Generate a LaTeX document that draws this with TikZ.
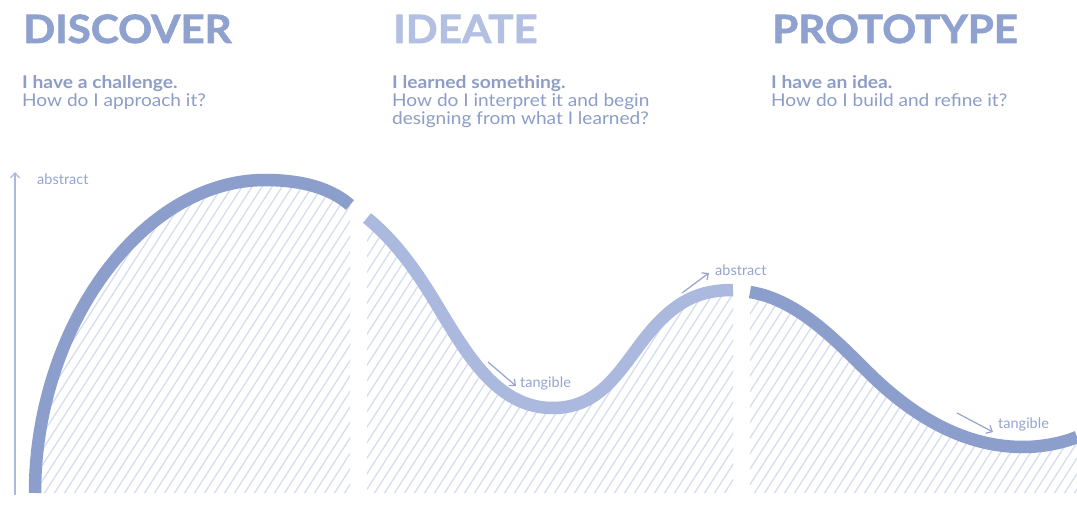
\documentclass[tikz,border=0pt]{standalone}
\usepackage{fontspec}
\setmainfont{Lato}
\newfontfamily\titlefont{Lato}[FakeStretch=1.08, BoldFeatures={FakeBold=1.6}]
\newfontfamily\subboldfont{Lato}[FakeStretch=1.1]
\newfontfamily\subregfont{Lato}[FakeStretch=1.09]
\usetikzlibrary{arrows.meta}
\definecolor{curvedark}{HTML}{8C9ECB}
\definecolor{curvelight}{HTML}{AAB9DD}
\definecolor{titledark}{HTML}{8FA1CE}
\definecolor{titlelight}{HTML}{B3C0E2}
\definecolor{subtxt}{HTML}{8D9DC8}
\definecolor{hatchc}{HTML}{D6DDEF}
\definecolor{labelc}{HTML}{95A5CE}
\tikzset{
  title/.style={anchor=base west, inner sep=0pt, font=\titlefont\fontsize{39}{39}\selectfont\bfseries},
  subhead/.style={anchor=base west, inner sep=0pt, text=subtxt, font=\subboldfont\fontsize{17.5}{18}\selectfont\bfseries},
  subline/.style={anchor=base west, inner sep=0pt, text=subtxt, font=\subregfont\fontsize{17.5}{18}\selectfont},
  lbl/.style={anchor=base west, inner sep=0pt, text=labelc, font=\fontsize{14.5}{15}\selectfont},
  hatch/.style={draw=hatchc, line width=1.3pt},
  curve/.style={line width=12.5pt, line cap=butt},
  pointer/.style={draw=labelc, line width=1.2pt, -{Straight Barb[length=5pt,width=9pt]}},
}
\begin{document}
\begin{tikzpicture}[x=1pt,y=-1pt]
\useasboundingbox[fill=white] (0,0) rectangle (1077,508);

% titles
\node[title, text=titledark] (t1) at (23,43) {DISCOVER};
\node[title, text=titlelight] (t2) at (393,43) {IDEATE};
\node[title, text=titledark] (t3) at (772,43) {PROTOTYPE};

\node[subhead] (s1a) at (22,89) {I have a challenge.};
\node[subline] (s1b) at (22,107) {How do I approach it?};
\node[subhead] (s2a) at (392,89) {I learned something.};
\node[subline] (s2b) at (392,107) {How do I interpret it and begin};
\node[subline] (s2c) at (392,125) {designing from what I learned?};
\node[subhead] (s3a) at (771,89) {I have an idea.};
\node[subline] (s3b) at (771,107) {How do I build and refine it?};

% hatched areas
\begin{scope}
  \clip (35,493) .. controls (35,330) and (140,180) .. (265,180) .. controls (310,180) and (335,192) .. (350,205) -- (350,493) -- cycle;
  \foreach \x in {0,10,...,700} \draw[hatch] (\x-300,500) -- ++(340,-527);
\end{scope}
\begin{scope}
  \clip (367,218) .. controls (400,245) and (422,280) .. (440,310) .. controls (470,360) and (500,408) .. (553,408) .. controls (600,408) and (620,370) .. (645,338) .. controls (675,300) and (700,290) .. (733,290) -- (733,493) -- (367,493) -- cycle;
  \foreach \x in {0,10,...,700} \draw[hatch] (\x+70,500) -- ++(340,-527);
\end{scope}
\begin{scope}
  \clip (750,292) .. controls (800,300) and (840,345) .. (873,377) .. controls (920,422) and (970,447) .. (1023,447) .. controls (1045,447) and (1065,442) .. (1077,437) -- (1077,493) -- (750,493) -- cycle;
  \foreach \x in {0,10,...,700} \draw[hatch] (\x+450,500) -- ++(340,-527);
\end{scope}

% curves
\draw[curve, draw=curvedark] (35,493) .. controls (35,330) and (140,180) .. (265,180) .. controls (310,180) and (335,192) .. (350,205);
\draw[curve, draw=curvelight] (367,218) .. controls (400,245) and (422,280) .. (440,310) .. controls (470,360) and (500,408) .. (553,408) .. controls (600,408) and (620,370) .. (645,338) .. controls (675,300) and (700,290) .. (733,290);
\draw[curve, draw=curvedark] (750,292) .. controls (800,300) and (840,345) .. (873,377) .. controls (920,422) and (970,447) .. (1023,447) .. controls (1045,447) and (1065,442) .. (1077,437);

% axis
\coordinate (axb) at (15,495);
\coordinate (axt) at (15,172);
\draw[pointer, draw=curvelight] (axb) -- (axt);
\node[lbl] (la) at (37,185) {abstract};

% labels with pointers
\node[lbl] (lt1) at (520,387) {tangible};
\coordinate (p1s) at (488,362);
\draw[pointer] (p1s) -- ([xshift=-4pt,yshift=1pt]lt1.base west);

\node[lbl] (la2) at (715,275) {abstract};
\coordinate (p2s) at (682,293);
\draw[pointer] (p2s) -- ([xshift=-6pt,yshift=2pt]la2.base west);

\node[lbl] (lt2) at (998,428) {tangible};
\coordinate (p3s) at (957,413);
\draw[pointer] (p3s) -- ([xshift=-5pt,yshift=-4pt]lt2.base west);
\end{tikzpicture}
\end{document}
